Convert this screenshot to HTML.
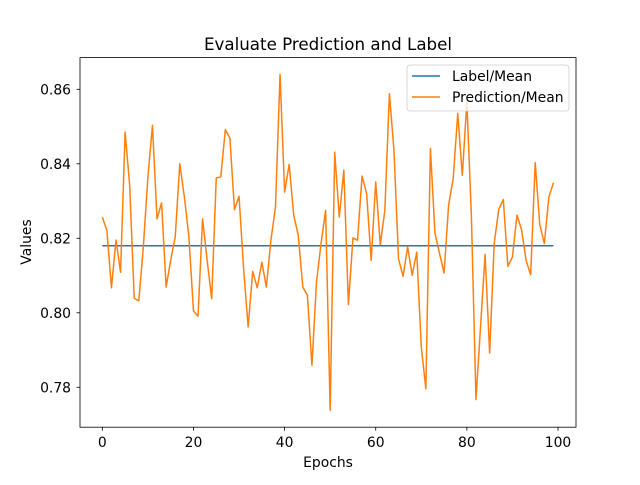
<!DOCTYPE html>
<html><head><meta charset="utf-8"><style>
body{margin:0;background:#fff;}
svg text{font-family:"DejaVu Sans","Liberation Sans",sans-serif;fill:#000;}
</style></head><body>
<svg id="chart" width="640" height="480" viewBox="0 0 640 480">
<rect width="640" height="480" fill="#fff"/>
<text x="328" y="50" font-size="16.7" text-anchor="middle">Evaluate Prediction and Label</text>
<g id="plot"></g>
<rect x="80" y="57.6" width="496" height="369.6" fill="none" stroke="#000" stroke-width="0.8"/>
<g id="xt"></g><g id="yt"></g>
<text x="328" y="467" font-size="13.9" text-anchor="middle">Epochs</text>
<text x="0" y="0" font-size="13.9" text-anchor="middle" transform="translate(31,242) rotate(-90)">Values</text>
<g>
<rect x="407" y="65" width="162" height="46" rx="3" fill="#fff" fill-opacity="0.8" stroke="#ccc" stroke-width="0.8"/>
<g><line x1="412" y1="76" x2="440" y2="76" stroke="#1f77b4" stroke-width="1.5"/><text x="452" y="81" font-size="13.9">Label/Mean</text></g>
<g><line x1="412" y1="97" x2="440" y2="97" stroke="#ff7f0e" stroke-width="1.5"/><text x="452" y="102" font-size="13.9">Prediction/Mean</text></g>
</g>
</svg>
<script>
const xTicks=[0,20,40,60,80,100];
const yTicks=[0.78,0.80,0.82,0.84,0.86];
const labelMean=0.818;
const prediction=[0.8257,0.8221,0.8067,0.8195,0.8109,0.8485,0.8342,0.8039,0.8032,0.8177,
0.8365,0.8503,0.8252,0.8295,0.8069,0.8141,0.8204,0.8400,0.8311,0.8204,
0.8005,0.7991,0.8252,0.8141,0.8038,0.8362,0.8365,0.8492,0.8468,0.8277,
0.8313,0.8119,0.7962,0.8111,0.8067,0.8136,0.8069,0.8195,0.8284,0.8640,
0.8324,0.8398,0.8262,0.8208,0.8069,0.8047,0.7859,0.8083,0.8186,0.8275,
0.7738,0.8431,0.8257,0.8383,0.8022,0.8201,0.8195,0.8367,0.8320,0.8141,
0.8351,0.8183,0.8275,0.8588,0.8436,0.8145,0.8098,0.8177,0.8101,0.8163,
0.7908,0.7796,0.8441,0.8214,0.8159,0.8107,0.8290,0.8360,0.8535,0.8369,
0.8566,0.8257,0.7767,0.7962,0.8157,0.7892,0.8186,0.8278,0.8304,0.8125,
0.8150,0.8262,0.8223,0.8141,0.8102,0.8403,0.8237,0.8186,0.8311,0.8349];
const NS='http://www.w3.org/2000/svg';
const n=prediction.length;
const xmin=-0.0495*(n-1), xmax=(n-1)*1.05;
const X=v=>80+(v-xmin)/(xmax-xmin)*496;
const allV=prediction.concat([labelMean]);
const lo=Math.min(...allV), hi=Math.max(...allV), pad=(hi-lo)*0.05;
const ymin=lo-pad, ymax=hi+pad;
const Y=v=>427.2-(v-ymin)/(ymax-ymin)*369.6;
function mk(tag,attrs,parent){const e=document.createElementNS(NS,tag);for(const k in attrs)e.setAttribute(k,attrs[k]);parent.appendChild(e);return e;}
const plot=document.getElementById('plot');
const lbl=mk('polyline',{points:prediction.map((_,i)=>X(i)+','+Y(labelMean)).join(' '),fill:'none',stroke:'#1f77b4','stroke-width':1.5},plot);


const pl=mk('polyline',{points:prediction.map((v,i)=>X(i)+','+Y(v)).join(' '),fill:'none',stroke:'#ff7f0e','stroke-width':1.5,'stroke-linejoin':'round'},plot);


const xt=document.getElementById('xt');
xTicks.forEach(t=>{const x=X(t);
const l=mk('line',{x1:x,x2:x,y1:427.2,y2:430.7,stroke:'#000','stroke-width':0.8},xt);


const tx=mk('text',{x:x,y:447,'font-size':13.9,'text-anchor':'middle'},xt);tx.textContent=t;

});
const yt=document.getElementById('yt');
yTicks.forEach(t=>{const y=Y(t);
const l=mk('line',{x1:76.5,x2:80,y1:y,y2:y,stroke:'#000','stroke-width':0.8},yt);


const tx=mk('text',{x:71,y:y+5,'font-size':13.9,'text-anchor':'end'},yt);tx.textContent=t.toFixed(2);

});
</script>
</body></html>
